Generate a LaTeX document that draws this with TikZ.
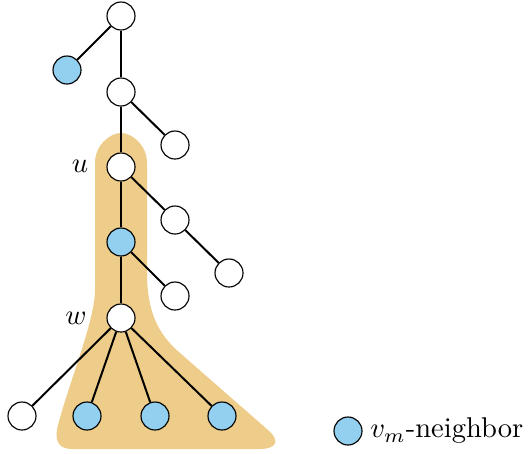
\documentclass[tikz,border=0pt]{standalone}
\usepackage{tikz}
\usetikzlibrary{positioning}
\definecolor{blobOro}{HTML}{EECC8A}
\definecolor{vmAzul}{HTML}{93D0F0}

\begin{document}
\begin{tikzpicture}[x=0.35pt, y=-0.35pt,
      vtx/.style={circle, draw=black, thin, fill=#1, minimum size=28*0.35pt, inner sep=0pt},
      vtx/.default=white,
      edge/.style={line width=0.7pt},
      lbl/.style={inner sep=0pt}]
    \useasboundingbox (0,0) rectangle (529,453);
    % zona sombreada
    \fill[blobOro] (95,290) -- (95,163)
      .. controls (95,145) and (110,133) .. (121,133)
      .. controls (132,133) and (147,145) .. (147,163)
      -- (147,272) .. controls (147,312) and (158,334) .. (180,353)
      -- (268,430) .. controls (281,441) and (276,449) .. (260,449)
      -- (72,449) .. controls (58,449) and (54,440) .. (58,425)
      .. controls (70,380) and (95,320) .. (95,290) -- cycle;
    % arbol
    \node[vtx] (r) at (121,16) {};
    \node[vtx=vmAzul] (b1) at (67,70) {};
    \node[vtx] (a) at (121,92) {};
    \node[vtx] (a1) at (175,145) {};
    \node[vtx] (u) at (121,167) {};
    \node[vtx] (u1) at (175,220) {};
    \node[vtx] (u2) at (229,273) {};
    \node[vtx=vmAzul] (v) at (121,242) {};
    \node[vtx] (v1) at (175,296) {};
    \node[vtx] (w) at (121,318) {};
    \node[vtx] (w1) at (22,416) {};
    \node[vtx=vmAzul] (w2) at (87,416) {};
    \node[vtx=vmAzul] (w3) at (155,416) {};
    \node[vtx=vmAzul] (w4) at (222,416) {};
    \node[lbl] (ul) at (80,166) {$u$};
    \node[lbl] (wl) at (76,318) {$w$};
    \draw[edge] (r) -- (b1);
    \draw[edge] (r) -- (a);
    \draw[edge] (a) -- (a1);
    \draw[edge] (a) -- (u);
    \draw[edge] (u) -- (v);
    \draw[edge] (u) -- (u1);
    \draw[edge] (u1) -- (u2);
    \draw[edge] (v) -- (v1);
    \draw[edge] (v) -- (w);
    \draw[edge] (w) -- (w1);
    \draw[edge] (w) -- (w2);
    \draw[edge] (w) -- (w3);
    \draw[edge] (w) -- (w4);
    % leyenda
    \node[vtx=vmAzul] (leg) at (348,431) {};
    \node[lbl, right=2.5pt of leg] (legtxt) {$v_m$-neighbor};
  \end{tikzpicture}
\end{document}
